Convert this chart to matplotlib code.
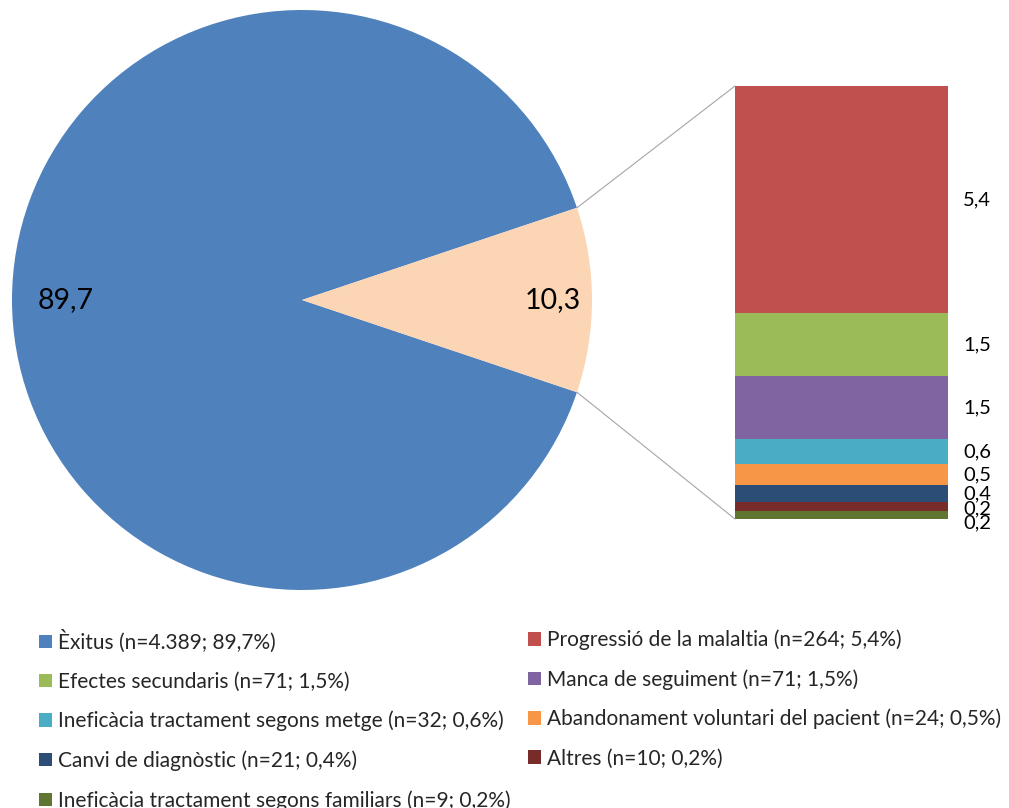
import matplotlib
matplotlib.use("Agg")
import matplotlib.pyplot as plt
from matplotlib.patches import ConnectionPatch, Patch
import numpy as np

plt.rcParams['font.family'] = ['Lato', 'DejaVu Sans']

# Data
pie_labels = ["Èxitus", "Altres motius"]
pie_values = [89.7, 10.3]
pie_colors = ["#4F81BD", "#FCD5B5"]

bar_categories = ["Ineficàcia tractament segons familiars", "Altres", "Canvi de diagnòstic",
                  "Abandonament voluntari del pacient", "Ineficàcia tractament segons metge",
                  "Manca de seguiment", "Efectes secundaris", "Progressió de la malaltia"]
bar_values = [0.2, 0.2, 0.4, 0.5, 0.6, 1.5, 1.5, 5.4]
bar_colors = ["#5F7530", "#772C2A", "#2C4D75", "#F79646", "#4BACC6", "#8064A2", "#9BBB59", "#C0504D"]

legend_labels = ["Èxitus (n=4.389; 89,7%)", "Progressió de la malaltia (n=264; 5,4%)",
                 "Efectes secundaris (n=71; 1,5%)", "Manca de seguiment (n=71; 1,5%)",
                 "Ineficàcia tractament segons metge (n=32; 0,6%)", "Abandonament voluntari del pacient (n=24; 0,5%)",
                 "Canvi de diagnòstic (n=21; 0,4%)", "Altres (n=10; 0,2%)",
                 "Ineficàcia tractament segons familiars (n=9; 0,2%)"]
legend_colors = ["#4F81BD", "#C0504D", "#9BBB59", "#8064A2", "#4BACC6", "#F79646",
                 "#2C4D75", "#772C2A", "#5F7530"]

W, H = 1009, 808
fig = plt.figure(figsize=(W / 100, H / 100), dpi=100)

def px_axes(x0, y0, x1, y1):
    return fig.add_axes([x0 / W, 1 - y1 / H, (x1 - x0) / W, (y1 - y0) / H])

# Pie
axp = px_axes(12, 10, 592, 590)
start = pie_values[1] / sum(pie_values) * 360 / 2
wedges, _ = axp.pie(pie_values, colors=pie_colors, startangle=start, counterclock=True,
                    radius=1.0, wedgeprops=dict(linewidth=0))
axp.set_xlim(-1, 1)
axp.set_ylim(-1, 1)
axp.set_aspect('equal')
axp.axis('off')
label_r = [0.815, 0.865]
for w, v, r in zip(wedges, pie_values, label_r):
    ang = np.deg2rad((w.theta1 + w.theta2) / 2)
    axp.text(r * np.cos(ang), r * np.sin(ang), f"{v:.1f}".replace('.', ','),
             ha='center', va='center', fontsize=20.5, color='black')

# Bar
axb = px_axes(735, 86, 948, 519)
bottom = 0
offsets = [-6, -2, 0, 0, 0, 0, 0, 0]
for v, c, off in zip(bar_values, bar_colors, offsets):
    axb.bar(0, v, bottom=bottom, width=1.0, color=c, linewidth=0)
    axb.annotate(f"{v:.1f}".replace('.', ','), xy=(1.0, bottom + v / 2),
                 xycoords=('axes fraction', 'data'), xytext=(11, off),
                 textcoords='offset points', ha='left', va='center', fontsize=14.5)
    bottom += v
axb.set_xlim(-0.5, 0.5)
axb.set_ylim(0, sum(bar_values))
axb.axis('off')

# Connectors
t1 = np.deg2rad(wedges[1].theta1)
t2 = np.deg2rad(wedges[1].theta2)
for th, yb in [(t2, sum(bar_values)), (t1, 0)]:
    con = ConnectionPatch(xyA=(np.cos(th), np.sin(th)), coordsA=axp.transData,
                          xyB=(-0.5, yb), coordsB=axb.transData,
                          color="#A6A6A6", linewidth=0.8)
    fig.add_artist(con)

# Legend (two columns)
handles = [Patch(facecolor=c, edgecolor='none') for c in legend_colors]
col1 = [0, 2, 4, 6, 8]
col2 = [1, 3, 5, 7]
for idx, x0 in [(col1, 39), (col2, 528)]:
    leg = fig.legend([handles[i] for i in idx], [legend_labels[i] for i in idx],
                     loc='upper left', bbox_to_anchor=(x0 / W, 1 - 629.5 / H),
                     bbox_transform=fig.transFigure, frameon=False, fontsize=15,
                     handlelength=0.62, handleheight=0.62, handletextpad=0.3,
                     labelspacing=0.915, borderpad=0, borderaxespad=0)
    for t in leg.get_texts():
        t.set_color('#262626')

fig.savefig("out.png", dpi=100)
